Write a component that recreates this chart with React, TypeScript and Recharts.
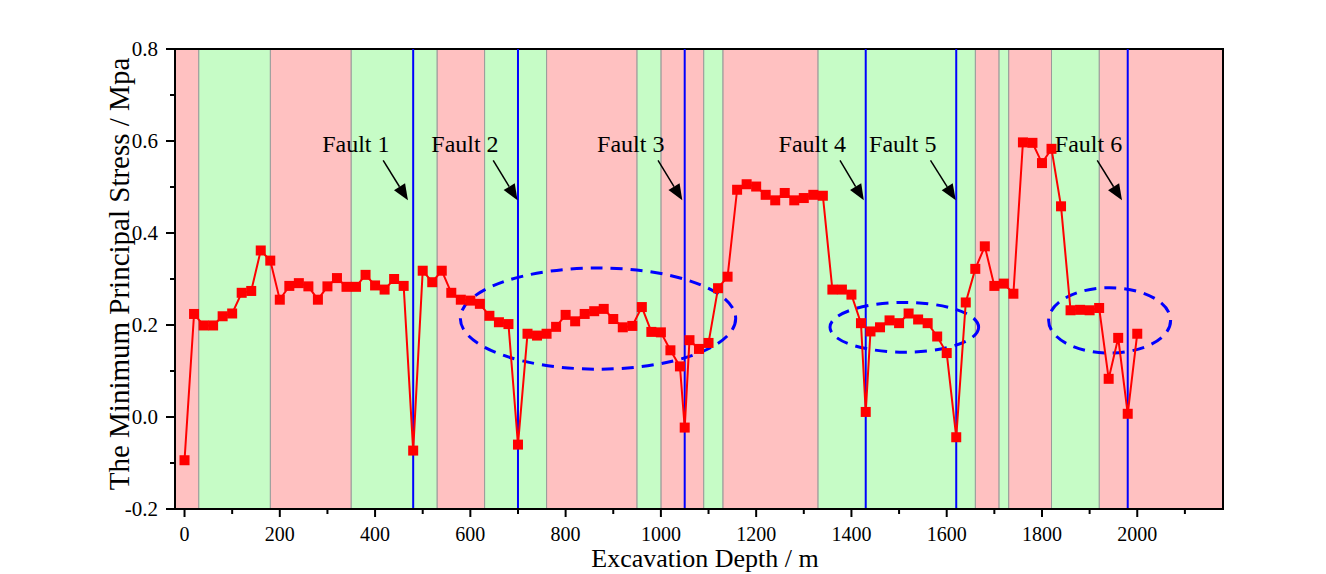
import { LineChart, Line, XAxis, YAxis, ReferenceArea, ReferenceLine, ReferenceDot } from 'recharts';

// excavation depth (m) of each measuring point
const depths = [
  0, 20, 40, 60, 80, 100, 120, 140, 160, 180, 200, 220, 240, 260, 280, 300, 320, 340, 360, 380,
  400, 420, 440, 460, 480, 500, 520, 540, 560, 580, 600, 620, 640, 660, 680, 700, 720, 740, 760, 780,
  800, 820, 840, 860, 880, 900, 920, 940, 960, 980, 1000, 1020, 1040, 1050, 1060, 1080, 1100, 1120, 1140, 1160,
  1180, 1200, 1220, 1240, 1260, 1280, 1300, 1320, 1340, 1360, 1380, 1400, 1420, 1430, 1440, 1460, 1480, 1500, 1520, 1540,
  1560, 1580, 1600, 1620, 1640, 1660, 1680, 1700, 1720, 1740, 1760, 1780, 1800, 1820, 1840, 1860, 1880, 1900, 1920, 1940,
  1960, 1980, 2000,
];

// minimum principal stress (MPa)
const stress = [
  -0.094, 0.224, 0.199, 0.199, 0.219, 0.225, 0.27, 0.274, 0.362, 0.34, 0.255, 0.285, 0.291, 0.284, 0.255, 0.284, 0.302, 0.283, 0.283, 0.309,
  0.286, 0.277, 0.3, 0.285, -0.073, 0.318, 0.293, 0.318, 0.27, 0.255, 0.253, 0.246, 0.22, 0.206, 0.202, -0.06, 0.181, 0.177, 0.181, 0.196,
  0.222, 0.208, 0.224, 0.23, 0.235, 0.213, 0.195, 0.198, 0.239, 0.185, 0.184, 0.145, 0.11, -0.023, 0.167, 0.148, 0.161, 0.28, 0.305, 0.494,
  0.506, 0.501, 0.483, 0.471, 0.487, 0.471, 0.476, 0.483, 0.481, 0.277, 0.277, 0.266, 0.204, 0.011, 0.186, 0.195, 0.21, 0.204, 0.225, 0.212,
  0.204, 0.175, 0.139, -0.044, 0.249, 0.322, 0.371, 0.285, 0.29, 0.268, 0.597, 0.596, 0.552, 0.583, 0.458, 0.232, 0.233, 0.232, 0.237, 0.083,
  0.172, 0.007, 0.181,
];

// rock zones along the tunnel
const redZones = [[-20, 30], [180, 350], [530, 630], [760, 950], [1000, 1090], [1130, 1330], [1660, 1710], [1730, 1820], [1920, 2180]];
const greenZones = [[30, 180], [350, 530], [630, 760], [950, 1000], [1090, 1130], [1330, 1660], [1710, 1730], [1820, 1920]];

const faultNames = ['Fault 1', 'Fault 2', 'Fault 3', 'Fault 4', 'Fault 5', 'Fault 6'];
const faultDepths = [480, 700, 1050, 1430, 1620, 1980];
const arrowFrom = [[417, 0.558], [648, 0.558], [994, 0.558], [1376, 0.558], [1566, 0.558], [1916, 0.558]];
const arrowTo = [[469, 0.471], [699, 0.471], [1045, 0.471], [1426, 0.471], [1619, 0.471], [1968, 0.471]];
const labelAt = [[289, 0.576], [518, 0.576], [866, 0.576], [1247, 0.576], [1437, 0.576], [1827, 0.576]];

// dashed ellipses: [centre depth, centre stress, half width, half height]
const ellipses = [[868, 0.214, 289, 0.11], [1511, 0.195, 156, 0.054], [1942, 0.21, 128, 0.071]];

const xTicks = [0, 100, 200, 300, 400, 500, 600, 700, 800, 900, 1000, 1100, 1200, 1300, 1400, 1500, 1600, 1700, 1800, 1900, 2000, 2100];
const yTicks = [-0.2, -0.1, 0, 0.1, 0.2, 0.3, 0.4, 0.5, 0.6, 0.7, 0.8];

const data = depths.map((d, i) => ({ depth: d, stress: stress[i] }));

const FONT = "'Liberation Serif', 'Times New Roman', serif";

const XTick = (props: any) => {
  const { x, y, payload } = props;
  const major = payload.value % 200 === 0;
  return (
    <g>
      <line x1={x} y1={y} x2={x} y2={y + (major ? 8 : 5)} stroke="#000" strokeWidth={2} />
      {major && (
        <text x={x} y={y + 32} textAnchor="middle" fontSize={20} fontFamily={FONT} fill="#000">
          {payload.value}
        </text>
      )}
    </g>
  );
};

const YTick = (props: any) => {
  const { x, y, payload } = props;
  const major = Math.round(payload.value * 10) % 2 === 0;
  return (
    <g>
      <line x1={x} y1={y} x2={x - (major ? 9 : 5)} y2={y} stroke="#000" strokeWidth={2} />
      {major && (
        <text x={x - 17} y={y + 7} textAnchor="end" fontSize={21} fontFamily={FONT} fill="#000">
          {payload.value.toFixed(1)}
        </text>
      )}
    </g>
  );
};

const Arrow = (p: any) => {
  const { x1, y1, x2, y2 } = p;
  const dx = x2 - x1;
  const dy = y2 - y1;
  const len = Math.hypot(dx, dy) || 1;
  const ux = dx / len;
  const uy = dy / len;
  const hl = 16;
  const hw = 6.5;
  const bx = x2 - ux * hl;
  const by = y2 - uy * hl;
  return (
    <g>
      <line x1={x1} y1={y1} x2={bx} y2={by} stroke="#000" strokeWidth={1.5} />
      <polygon points={`${x2},${y2} ${bx - uy * hw},${by + ux * hw} ${bx + uy * hw},${by - ux * hw}`} fill="#000" />
    </g>
  );
};

const Ellipse = (p: any) => (
  <ellipse
    cx={p.x + p.width / 2}
    cy={p.y + p.height / 2}
    rx={Math.abs(p.width) / 2}
    ry={Math.abs(p.height) / 2}
    fill="none"
    stroke="#0000FF"
    strokeWidth={3}
    strokeDasharray="12 8"
  />
);

const Square = (p: any) => (
  <rect key={p.index} x={p.cx - 5} y={p.cy - 5} width={10} height={10} fill="#FF0000" />
);

export default function App() {
  return (
    <div style={{ position: 'fixed', left: 0, top: 0, background: '#fff' }}>
      <LineChart width={1326} height={574} data={data} margin={{ top: 49, right: 103, left: 95, bottom: 5 }}>
        <XAxis
          dataKey="depth"
          type="number"
          domain={[-20, 2180]}
          ticks={xTicks}
          interval={0}
          tickSize={0}
          tickMargin={0}
          tick={<XTick />}
          height={60}
          axisLine={{ stroke: '#000', strokeWidth: 2 }}
          label={{
            content: (lp: any) => {
              const vb = lp.viewBox;
              return (
                <text x={vb.x + vb.width / 2 + 6} y={vb.y + 58} textAnchor="middle" fontSize={26} fontFamily={FONT} fill="#000">
                  Excavation Depth / m
                </text>
              );
            },
          }}
        />
        <YAxis
          type="number"
          domain={[-0.2, 0.8]}
          ticks={yTicks}
          interval={0}
          tickSize={0}
          tickMargin={0}
          tick={<YTick />}
          width={80}
          axisLine={{ stroke: '#000', strokeWidth: 2 }}
          label={{
            content: (lp: any) => {
              const vb = lp.viewBox;
              const cx = vb.x + 34;
              const cy = vb.y + vb.height / 2 - 5;
              return (
                <text x={cx} y={cy} transform={`rotate(-90, ${cx}, ${cy})`} textAnchor="middle" fontSize={29} fontFamily={FONT} fill="#000">
                  The Minimum Principal Stress / Mpa
                </text>
              );
            },
          }}
        />

        {redZones.map(([a, b]) => (
          <ReferenceArea key={`r${a}`} x1={a} x2={b} y1={-0.2} y2={0.8} fill="#FFC1C1" fillOpacity={1} stroke="#9a9a9a" strokeWidth={1} />
        ))}
        {greenZones.map(([a, b]) => (
          <ReferenceArea key={`g${a}`} x1={a} x2={b} y1={-0.2} y2={0.8} fill="#C6FCC6" fillOpacity={1} stroke="#9a9a9a" strokeWidth={1} />
        ))}
        <ReferenceArea x1={-20} x2={2180} y1={-0.2} y2={0.8} fill="none" stroke="#000" strokeWidth={2} />

        {faultDepths.map((d) => (
          <ReferenceLine key={`f${d}`} x={d} stroke="#0000FF" strokeWidth={2} />
        ))}

        <Line
          dataKey="stress"
          stroke="#FF0000"
          strokeWidth={2}
          type="linear"
          dot={Square}
          activeDot={false}
          isAnimationActive={false}
        />

        {ellipses.map(([cx, cy, rx, ry]) => (
          <ReferenceArea key={`e${cx}`} x1={cx - rx} x2={cx + rx} y1={cy - ry} y2={cy + ry} shape={Ellipse} />
        ))}

        {faultNames.map((n, i) => (
          <ReferenceLine
            key={`a${n}`}
            segment={[
              { x: arrowFrom[i][0], y: arrowFrom[i][1] },
              { x: arrowTo[i][0], y: arrowTo[i][1] },
            ]}
            shape={Arrow}
          />
        ))}
        {faultNames.map((n, i) => (
          <ReferenceDot
            key={`l${n}`}
            x={labelAt[i][0]}
            y={labelAt[i][1]}
            r={1}
            shape={(p: any) => (
              <text x={p.cx} y={p.cy} fontSize={24} fontFamily={FONT} fill="#000">
                {n}
              </text>
            )}
          />
        ))}
      </LineChart>
    </div>
  );
}
